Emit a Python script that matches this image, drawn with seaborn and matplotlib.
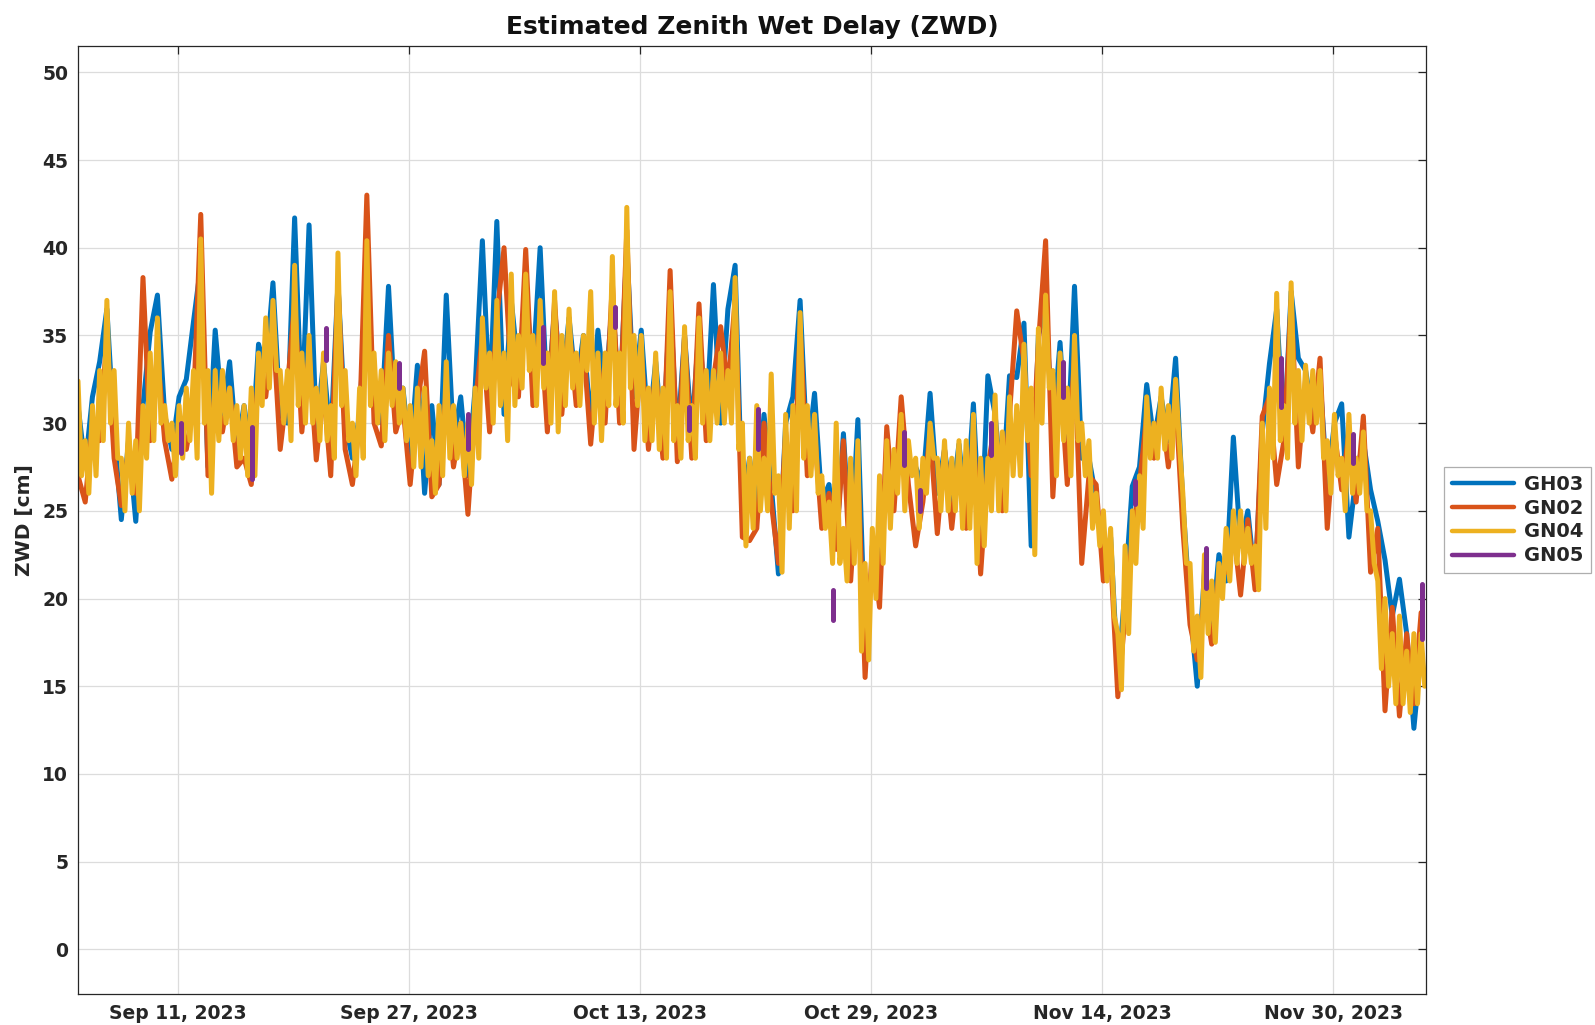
import numpy as np
import pandas as pd
import seaborn as sns
import matplotlib.pyplot as plt
import matplotlib.dates as mdates
from matplotlib.lines import Line2D

# half-day slots, first one at 2023-09-04 02:00
t_start = '2023-09-04 02:00'
n_samples = 187

gh03 = [31, 27.5, 31.5, 33.5, 36.5, 29.5, 24.5, 29, 24.4, 31,
        35.2, 37.3, 30.5, 28.5, 31.5, 32.5, 35.8, 39, 27.5, 35.3,
        30.5, 33.5, 28.5, 31, 28, 34.5, 33, 38, 30.5, 30,
        41.7, 30.5, 41.3, 29.5, 33.5, 29, 38, 30, 28, 30.5,
        38, 32, 30, 37.8, 30, 32, 28, 33.3, 26, 31,
        26.5, 37.3, 29, 31.5, 27, 32, 40.4, 31, 41.5, 30.5,
        37, 33, 37.5, 33, 40, 31, 36.5, 32, 36, 32,
        35, 30, 35.3, 31.5, 37, 31, 40, 31.5, 35.3, 29.5,
        33.5, 29, 37, 29, 35, 29.5, 35.5, 30, 37.9, 30,
        36.5, 39, 25, 28, 25, 30.5, 26.5, 21.4, 30, 31.5,
        37, 28, 31.7, 25.5, 26.5, 23, 29.4, 22.5, 30.2, 17.5,
        22, 21, 28, 26, 29.5, 27.5, 27.5, 26.5, 31.7, 26,
        28.5, 25.5, 28.8, 25, 31.1, 22.5, 32.7, 30.5, 26, 32.7,
        32.6, 35.7, 23, 35, 36.5, 29.5, 34.6, 28, 37.8, 28,
        28, 25.7, 22, 23.5, 15.5, 20.5, 26.4, 27.5, 32.2, 29,
        31.5, 29, 33.7, 25.5, 19.5, 15, 21.5, 18, 22.5, 21,
        29.2, 23, 25, 21, 29.5, 33.4, 36.5, 29, 37.5, 33.7,
        33, 30.5, 32.5, 26.5, 30, 31.1, 23.5, 27, 29, 26.2,
        24.4, 22.2, 19, 21.1, 18, 12.6, 17]

gn02 = [27, 25.5, 30, 29, 35, 28, 25.3, 28.5, 26, 38.3,
        29, 34, 29, 26.8, 30, 28.5, 31, 41.9, 27, 32,
        29.5, 32, 27.5, 28, 26.5, 33, 31.5, 35.5, 28.5, 32,
        37, 29.5, 34, 27.9, 32, 27, 38, 28.5, 26.5, 30,
        43, 30, 28.7, 35, 29.5, 31, 26.5, 31, 34.1, 25.8,
        26.5, 32, 27.5, 30, 24.8, 31, 35, 29.5, 36, 40,
        32.5, 31.5, 39.9, 31, 36, 29.5, 37, 30.5, 35.5, 31,
        34.5, 28.8, 33.5, 30, 38, 30, 41, 28.5, 34, 28.5,
        33, 28, 38.7, 27.8, 35, 28, 36.8, 29, 32.5, 35.5,
        32, 37, 23.5, 23.3, 24, 30, 25.5, 22, 29.5, 25,
        35.5, 27, 29.5, 24, 26, 22.8, 29, 21, 27.5, 15.5,
        23, 19.5, 29.8, 25, 31.5, 26.5, 23, 25.5, 29.5, 23.7,
        28.5, 24, 28, 24, 29.5, 21.4, 27.5, 30, 25, 30.5,
        36.4, 33.5, 27, 34.5, 40.4, 25.8, 33, 26.5, 34, 22,
        27, 26.5, 21, 22.5, 14.4, 19, 23.5, 26.5, 30.5, 28,
        31, 27.5, 31.5, 24, 18.5, 16.5, 20, 17.4, 21.5, 21.5,
        24, 20.2, 24.5, 20.5, 30.4, 31.5, 26.5, 29, 37, 27.5,
        32.5, 29.5, 33.7, 24, 29.5, 26.2, 29.5, 25.5, 30.4, 21.5,
        24, 13.6, 19.5, 13.3, 18, 14, 19.2]

# GN04: top and bottom of its band in each half-day slot
gn04_hi = [32.4, 29, 31, 33, 37, 33, 28, 30, 29, 31,
           34, 36, 31, 30, 31, 32, 33, 40.5, 33, 33,
           33, 32, 31, 31, 32, 34, 36, 37, 33, 33,
           39, 34, 35, 32, 34, 31, 39.7, 33, 30, 32,
           40.4, 34, 33, 34, 33.5, 32, 31, 32, 32, 29,
           31, 33.5, 31, 30, 30, 32, 36, 34, 37, 34,
           38.5, 35, 38.5, 35, 37, 34, 37.5, 35, 36.5, 34,
           35, 37.5, 34, 34, 39.5, 34, 42.3, 35, 35, 32,
           34, 32, 37.5, 31, 35.5, 31, 36, 33, 33, 34,
           33, 38.3, 30, 28, 31, 28, 32.8, 27, 30.5, 31,
           36.3, 31, 30.5, 27, 25.5, 30, 24, 28, 29, 22,
           24, 27, 29, 28.5, 30.5, 29, 28, 28, 30, 28,
           29, 28, 29, 29, 30.5, 28, 28, 31.6, 29.5, 31.5,
           31, 34.5, 32, 35.4, 37.3, 33, 34, 32, 35, 30,
           29, 26, 25, 24, 18, 23, 25, 27, 31.5, 30,
           32, 31, 32.5, 26, 22, 19, 22.5, 21, 22, 24,
           25, 25, 24, 23, 30, 32, 37.4, 31, 38, 33,
           33.3, 33, 33, 29, 30.5, 28, 30.5, 28, 29.5, 25,
           21, 20, 18, 19, 17, 18, 18]

gn04_lo = [27, 26, 27, 29, 30, 28, 25, 26, 25, 28,
           29, 30, 29, 27, 28, 29, 28, 30, 26, 29,
           30, 29, 28, 27, 27, 31, 32, 33, 30, 29,
           31, 30, 30, 29, 29, 28, 31, 29, 27, 28,
           31, 30, 29, 31, 30, 29, 27.5, 27.5, 27, 26,
           27, 28, 28, 27, 26.5, 28, 32, 30, 31, 29,
           31, 32, 33, 31, 32, 30, 29.5, 31, 32, 31,
           33, 30, 29, 31, 31, 30, 32, 31, 29, 29,
           28.5, 28, 29, 28, 29, 28, 30, 29, 30, 30,
           30, 28.5, 23, 24, 25, 25, 26, 21.5, 24, 25,
           28, 27, 26, 24, 22, 22, 21, 22, 17, 16.5,
           20, 22, 24, 26, 25, 27, 24, 26, 28, 25,
           25, 25, 24, 24, 22, 23, 25, 25, 25, 27,
           27, 29, 22.5, 30, 32, 27, 29, 27, 29, 27,
           24, 23, 21, 19, 14.8, 18, 22, 24, 28, 28,
           28.5, 28, 29, 22, 17, 15.5, 18, 17.5, 20, 21,
           22, 22, 22, 20.5, 24, 28, 29, 28, 30, 29,
           30, 30, 28, 26, 27, 25, 26, 26, 25, 22,
           16, 15, 14, 14, 13.5, 14, 15]

# GN05 only has short bursts, roughly every 5 days
gn05_times = ['2023-09-11 06:00', '2023-09-16 03:00', '2023-09-21 06:00',
              '2023-09-26 07:00', '2023-10-01 02:00', '2023-10-06 07:00',
              '2023-10-11 07:00', '2023-10-16 09:00', '2023-10-21 04:00',
              '2023-10-26 09:00', '2023-10-31 07:00', '2023-11-01 09:00',
              '2023-11-06 08:00', '2023-11-11 07:00', '2023-11-16 07:00',
              '2023-11-21 04:00', '2023-11-26 09:00', '2023-12-01 09:00',
              '2023-12-06 04:00']
gn05_hi = [30.0, 29.8, 35.4, 33.4, 30.5, 35.5, 36.6, 30.9, 30.8, 20.5,
           29.5, 26.2, 30.0, 33.5, 26.7, 22.9, 33.7, 29.4, 20.8]
gn05_lo = [28.3, 26.8, 33.6, 32.0, 28.5, 33.4, 35.5, 29.6, 28.5, 18.75,
           27.6, 25.0, 28.2, 31.5, 25.4, 20.6, 30.9, 27.7, 17.7]

stations = ['GH03', 'GN02', 'GN04', 'GN05']
colors = ['#0072BD', '#D95319', '#EDB120', '#7E2F8E']

times = pd.date_range(t_start, periods=n_samples, freq='12h')
df = pd.DataFrame({'time': times, 'GH03': gh03, 'GN02': gn02})

# GN04 band: top at the slot time, bottom six hours later
df4 = pd.concat([
    pd.DataFrame({'time': times, 'zwd': gn04_hi}),
    pd.DataFrame({'time': times + pd.Timedelta(hours=6), 'zwd': gn04_lo}),
]).sort_values('time')

seg_rows = []
for i, (t, hi, lo) in enumerate(zip(gn05_times, gn05_hi, gn05_lo)):
    seg_rows.append({'time': pd.Timestamp(t), 'zwd': hi, 'seg': i})
    seg_rows.append({'time': pd.Timestamp(t), 'zwd': lo, 'seg': i})
df5 = pd.DataFrame(seg_rows)

sns.set_style('white')
plt.rcParams['font.family'] = ['DejaVu Sans']
plt.rcParams['font.weight'] = 'bold'

fig = plt.figure(figsize=(15.95, 10.25), dpi=100)
ax = fig.add_axes([0.0489, 0.0302, 0.8451, 0.9249])

lw = 3.6
sns.lineplot(data=df, x='time', y='GH03', color=colors[0], lw=lw, ax=ax,
             solid_capstyle='round', solid_joinstyle='round')
sns.lineplot(data=df, x='time', y='GN02', color=colors[1], lw=lw, ax=ax,
             solid_capstyle='round', solid_joinstyle='round')
sns.lineplot(data=df4, x='time', y='zwd', color=colors[2], lw=lw, ax=ax,
             estimator=None, solid_capstyle='round', solid_joinstyle='round')
sns.lineplot(data=df5, x='time', y='zwd', units='seg', estimator=None, sort=False,
             color=colors[3], lw=lw, ax=ax, solid_capstyle='round')

ax.set_xlim(pd.Timestamp('2023-09-04 02:00'), pd.Timestamp('2023-12-06 10:00'))
ax.set_ylim(-2.55, 51.5)
ax.set_yticks(np.arange(0, 51, 5))
xt = pd.to_datetime(['2023-09-11', '2023-09-27', '2023-10-13',
                     '2023-10-29', '2023-11-14', '2023-11-30'])
ax.set_xticks(xt)
ax.xaxis.set_major_formatter(mdates.DateFormatter('%b %d, %Y'))

ax.grid(True, color='#dcdcdc', lw=0.9)
ax.set_axisbelow(True)
ax.tick_params(direction='in', top=True, right=True, length=5.5, width=0.9,
               labelsize=13.5, colors='#262626', pad=7)
for lab in ax.get_xticklabels() + ax.get_yticklabels():
    lab.set_fontweight('bold')
for s in ax.spines.values():
    s.set_color('#262626')
    s.set_linewidth(0.9)

ax.set_xlabel('')
ax.set_ylabel('ZWD [cm]', fontsize=14.5, fontweight='bold', color='#262626', labelpad=6)
ax.set_title('Estimated Zenith Wet Delay (ZWD)', fontsize=18, fontweight='bold',
             color='#111111', pad=9)

handles = [Line2D([], [], color=c, lw=3.2) for c in colors]
leg = ax.legend(handles, stations, loc='center left', bbox_to_anchor=(1.0135, 0.5),
                borderaxespad=0, fancybox=False, edgecolor='#9a9a9a',
                handlelength=3.2, handletextpad=0.5, labelspacing=0.25,
                prop={'weight': 'bold', 'size': 14})
for t in leg.get_texts():
    t.set_color('#262626')
leg.get_frame().set_linewidth(0.9)

fig.savefig('out.png', dpi=100)
